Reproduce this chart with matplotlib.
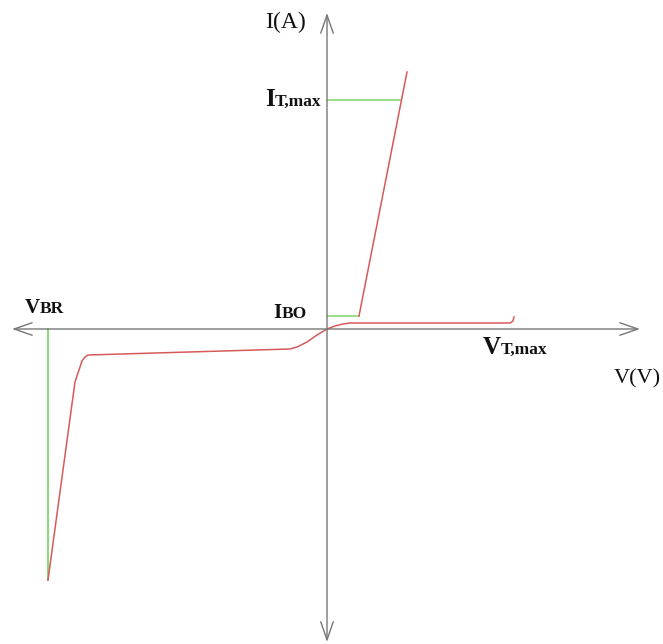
import matplotlib
matplotlib.use("Agg")
import matplotlib.pyplot as plt

# Thyristor / DIAC style I-V characteristic (arbitrary units)
fwd_off_v = [0, 8, 16, 23, 183, 186, 187]
fwd_off_i = [0, 3, 5, 6, 6, 8, 12]

fwd_on_v = [32, 80]
fwd_on_i = [13, 257]

rev_v = [0, -5, -10, -20, -30, -37, -239, -242, -245, -252, -279]
rev_i = [0, -3, -6, -13, -18, -20, -26, -28, -32, -53, -251]

I_BO = 13
V_BO = 32
I_TMAX = 229
V_BR = -279

RED = "#d65a5a"
GREEN = "#7fd46a"
AXIS = "#777777"

fig = plt.figure(figsize=(6.63, 6.44), dpi=100)
ax = fig.add_axes([0, 0, 1, 1])
ax.set_xlim(-327, 336)
ax.set_ylim(-315, 329)
ax.axis("off")

# axes with open arrowheads
arrow_style = "<->,head_length=1.3,head_width=0.45"
arrow = dict(arrowstyle=arrow_style, color=AXIS, lw=1.0,
             mutation_scale=10, shrinkA=0, shrinkB=0)
ax.annotate("", xy=(-315, 0), xytext=(313, 0), arrowprops=arrow)
ax.annotate("", xy=(0, 316), xytext=(0, -313), arrowprops=arrow)

# reference levels
slope = (fwd_on_v[1] - fwd_on_v[0]) / (fwd_on_i[1] - fwd_on_i[0])
v_at_imax = fwd_on_v[0] + (I_TMAX - fwd_on_i[0]) * slope
ax.plot([0, V_BO], [I_BO, I_BO], color=GREEN, lw=1.1)
ax.plot([0, v_at_imax], [I_TMAX, I_TMAX], color=GREEN, lw=1.1)
ax.plot([V_BR, V_BR], [0, rev_i[-1]], color=GREEN, lw=1.3)

# characteristic curve
ax.plot(fwd_off_v, fwd_off_i, color=RED, lw=1.1)
ax.plot(fwd_on_v, fwd_on_i, color=RED, lw=1.1)
ax.plot(rev_v, rev_i, color=RED, lw=1.1)

SERIF = ["Liberation Serif", "DejaVu Serif"]
fig.canvas.draw()
renderer = fig.canvas.get_renderer()


def label(x, y, big, small, size_big, size_small):
    t = ax.text(x, y, big, fontsize=size_big, fontweight="bold",
                family=SERIF, ha="left", va="baseline", color="#111111")
    bb = t.get_window_extent(renderer=renderer)
    x_end = ax.transData.inverted().transform((bb.x1, bb.y0))[0]
    ax.text(x_end, y, small, fontsize=size_small, fontweight="bold",
            family=SERIF, ha="left", va="baseline", color="#111111")


label(-62, 223, "I", "T,max", 18, 12.5)
label(-302, 16, "V", "BR", 15, 12.5)
label(-54, 11, "I", "BO", 15, 12.5)
label(156, -25, "V", "T,max", 18, 12.5)

ax.text(-62, 301, "I(A)", fontsize=17, family=SERIF, ha="left",
        va="baseline", color="#111111")
ax.text(287, -54, "V(V)", fontsize=16, family=SERIF, ha="left",
        va="baseline", color="#111111")

fig.savefig("out.png", dpi=100)
